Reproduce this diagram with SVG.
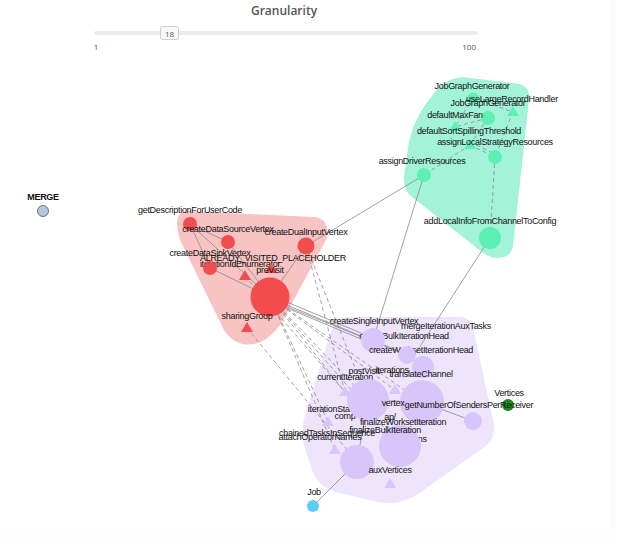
<svg xmlns="http://www.w3.org/2000/svg" width="617" height="545" viewBox="0 0 617 545">
<style>
text{font-family:"Liberation Sans",Arial,sans-serif;}
.lb{font-size:9px;fill:#111;text-anchor:middle;letter-spacing:-0.3px;}
.ui{font-family:"Open Sans","Liberation Sans",sans-serif;fill:#555;}
.g{fill:#5ef0b2;}
.r{fill:#f24c4e;}
.p{fill:#d8c6fa;}
.e{stroke:#8a8a8a;stroke-width:0.8;fill:none;}
.d{stroke:#8a8a8a;stroke-width:0.8;fill:none;stroke-dasharray:4 3;}
</style>
<rect x="0" y="0" width="617" height="545" fill="#ffffff"/>
<rect x="0" y="528" width="617" height="17" fill="#fcfcfc"/>
<rect x="610" y="0" width="7" height="545" fill="#fcfcfc"/>

<g id="slider">
<text class="ui" x="284" y="15" font-size="12" font-weight="600" text-anchor="middle">Granularity</text>
<line x1="96" y1="33" x2="476" y2="33" stroke="#ececec" stroke-width="4" stroke-linecap="round"/>
<rect x="160.5" y="26.5" width="18" height="13" rx="2" fill="#f8f8f8" stroke="#cfcfcf"/>
<text class="ui" x="169.5" y="36.5" font-size="8" text-anchor="middle">18</text>
<text class="ui" x="96" y="50" font-size="8" text-anchor="middle">1</text>
<text class="ui" x="476" y="50" font-size="8" text-anchor="end">100</text>
</g>

<g id="hulls">
<path d="M462,77 L520,84 Q531,88 529,100 L513,246 Q510,259 496,258 Q488,257 482,252 L412,197 Q403,190 404,176 L408,148 Q412,120 432,96 Q442,80 462,77 Z" fill="#a2f3d8"/>
<path d="M186,211 L315,217 Q330,220 327,238 L282,322 Q265,348 242,344 Q230,340 224,330 L180,240 Q172,212 186,211 Z" fill="#f8c4c3"/>
<path d="M348,317 L462,317 Q470,318 473,328 L494,424 Q496,436 486,446 L418,494 Q400,506 378,502 L335,492 Q318,486 312,470 L304,445 Q300,430 306,412 L330,334 Q336,318 348,317 Z" fill="#eee5fd"/>
</g>

<g id="connectors">
<line class="e" x1="306" y1="246" x2="424" y2="175"/>
<line class="e" x1="424" y1="175" x2="373" y2="340"/>
<line class="e" x1="490" y1="238" x2="410" y2="362"/>
<line class="d" x1="495" y1="157" x2="490" y2="238"/>
<line class="d" x1="473" y1="98" x2="513" y2="112"/>
<line class="d" x1="473" y1="98" x2="455" y2="127"/>
<line class="d" x1="488" y1="118" x2="455" y2="127"/>
<line class="d" x1="470" y1="145" x2="495" y2="157"/>
<line class="d" x1="470" y1="142" x2="495" y2="154"/>
<line class="d" x1="513" y1="112" x2="495" y2="157"/>
<line class="d" x1="470" y1="145" x2="424" y2="175"/>
<line class="d" x1="488" y1="118" x2="470" y2="145"/>
<line class="e" x1="190" y1="224" x2="270" y2="297"/>
<line class="e" x1="190" y1="224" x2="228" y2="242"/>
<line class="e" x1="190" y1="224" x2="210" y2="268"/>
<line class="e" x1="228" y1="242" x2="270" y2="297"/>
<line class="e" x1="210" y1="268" x2="270" y2="297"/>
<line class="e" x1="306" y1="246" x2="270" y2="297"/>
<line class="e" x1="270" y1="295" x2="373" y2="338"/>
<line class="e" x1="270" y1="298" x2="373" y2="341"/>
<line class="e" x1="270" y1="301" x2="373" y2="344"/>
<line class="e" x1="270" y1="300" x2="407" y2="355"/>
<line class="d" x1="270" y1="297" x2="368" y2="400"/>
<line class="d" x1="270" y1="297" x2="345" y2="392"/>
<line class="d" x1="270" y1="297" x2="328" y2="422"/>
<line class="d" x1="270" y1="297" x2="335" y2="450"/>
<line class="d" x1="270" y1="297" x2="395" y2="390"/>
<line class="d" x1="270" y1="297" x2="400" y2="446"/>
<line class="d" x1="270" y1="297" x2="422" y2="402"/>
<line class="d" x1="245" y1="276" x2="345" y2="392"/>
<line class="d" x1="247" y1="328" x2="357" y2="462"/>
<line class="d" x1="306" y1="246" x2="345" y2="392"/>
<line class="d" x1="306" y1="246" x2="368" y2="400"/>
<line class="e" x1="373" y1="340" x2="407" y2="355"/>
<line class="e" x1="407" y1="355" x2="423" y2="367"/>
<line class="e" x1="368" y1="400" x2="422" y2="402"/>
<line class="e" x1="422" y1="402" x2="473" y2="421"/>
<line class="e" x1="368" y1="400" x2="357" y2="462"/>
<line class="e" x1="313" y1="506" x2="357" y2="462"/>
</g>

<g id="n-JobGraphGenerator"><circle class="g" cx="473" cy="98" r="5.5"/><text class="lb" x="472" y="89">JobGraphGenerator</text></g>
<g id="n-useLargeRecordHandler"><path class="g" d="M513,106 L519,116 L507,116 Z"/><text class="lb" x="512" y="102">useLargeRecordHandler</text></g>
<g id="n-JobGraphGenerator2"><circle class="g" cx="488" cy="118" r="7"/><text class="lb" x="488" y="106">JobGraphGenerator</text></g>
<g id="n-defaultMaxFan"><path class="g" d="M455,121 L461,131 L449,131 Z"/><text class="lb" x="455" y="118">defaultMaxFan</text></g>
<g id="n-defaultSortSpillingThreshold"><path class="g" d="M470,139 L476,149 L464,149 Z"/><text class="lb" x="469" y="134">defaultSortSpillingThreshold</text></g>
<g id="n-assignLocalStrategyResources"><circle class="g" cx="495" cy="157" r="7"/><text class="lb" x="495" y="145">assignLocalStrategyResources</text></g>
<g id="n-assignDriverResources"><circle class="g" cx="424" cy="175" r="7"/><text class="lb" x="422" y="164">assignDriverResources</text></g>
<g id="n-addLocalInfoFromChannelToConfig"><circle class="g" cx="490" cy="238" r="11"/><text class="lb" x="490" y="224">addLocalInfoFromChannelToConfig</text></g>

<g id="n-iterationIdEnumerator"><path class="r" d="M245,270 L251,280 L239,280 Z"/><text class="lb" x="240" y="267">iterationIdEnumerator</text></g>
<g id="n-getDescriptionForUserCode"><circle class="r" cx="190" cy="224" r="7"/><text class="lb" x="190" y="213">getDescriptionForUserCode</text></g>
<g id="n-createDataSourceVertex"><circle class="r" cx="228" cy="242" r="7"/><text class="lb" x="228" y="232">createDataSourceVertex</text></g>
<g id="n-createDualInputVertex"><circle class="r" cx="306" cy="246" r="8.5"/><text class="lb" x="306" y="235">createDualInputVertex</text></g>
<g id="n-createDataSinkVertex"><circle class="r" cx="210" cy="268" r="7"/><text class="lb" x="210" y="256">createDataSinkVertex</text></g>
<g id="n-ALREADY_VISITED_PLACEHOLDER"><path class="r" d="M271,263 L277,273 L265,273 Z"/><text class="lb" x="273" y="261">ALREADY_VISITED_PLACEHOLDER</text></g>
<g id="n-preVisit"><circle class="r" cx="270" cy="297" r="19.5"/><text class="lb" x="270" y="273">preVisit</text></g>
<g id="n-sharingGroup"><path class="r" d="M247,322 L253,332 L241,332 Z"/><text class="lb" x="247" y="319">sharingGroup</text></g>

<g id="n-createBulkIterationHead"><text class="lb" x="404" y="339">createBulkIterationHead</text></g>
<g id="n-createSingleInputVertex"><circle class="p" cx="373" cy="340" r="12"/><text class="lb" x="374" y="324">createSingleInputVertex</text></g>
<g id="n-mergeIterationAuxTasks"><text class="lb" x="446" y="329">mergeIterationAuxTasks</text></g>
<g id="n-createWorksetIterationHead"><text class="lb" x="421" y="353">createWorksetIterationHead</text></g>
<g id="n-bulkHeadNode"><circle class="p" cx="407" cy="355" r="9"/></g>
<g id="n-translateChannel"><circle class="p" cx="423" cy="367" r="11"/><text class="lb" x="421" y="377">translateChannel</text></g>
<g id="n-iterations"><path class="p" d="M395,384 L401,394 L389,394 Z"/><text class="lb" x="392" y="373">iterations</text></g>
<g id="n-postVisit"><text class="lb" x="364" y="374">postVisit</text></g>
<g id="n-currentIteration"><path class="p" d="M345,386 L351,396 L339,396 Z"/><text class="lb" x="345" y="380">currentIteration</text></g>
<g id="n-iterationStack"><path class="p" d="M328,416 L334,426 L322,426 Z"/><text class="lb" x="333" y="412">iterationStack</text></g>
<g id="n-comp"><text class="lb" x="345" y="419">comp</text></g>
<g id="n-big1"><circle class="p" cx="368" cy="400" r="21"/></g>
<g id="n-big2"><circle class="p" cx="422" cy="402" r="22"/></g>
<g id="n-vertex"><text class="lb" x="393" y="406">vertex</text></g>
<g id="n-ap"><text class="lb" x="390" y="420">ap/</text></g>
<g id="n-Vertices"><circle cx="508" cy="405" r="6" fill="#1f8b1f"/><text class="lb" x="509" y="396">Vertices</text></g>
<g id="n-getNumberOfSendersPerReceiver"><circle class="p" cx="473" cy="421" r="9"/><text class="lb" x="469" y="408">getNumberOfSendersPerReceiver</text></g>
<g id="n-iterationsB"><text class="lb" x="410" y="442">iterations</text></g>
<g id="n-chainedTasksInSequence"><path class="p" d="M335,444 L341,454 L329,454 Z"/><text class="lb" x="327" y="436">chainedTasksInSequence</text></g>
<g id="n-attachOperatorNames"><text class="lb" x="320" y="440">attachOperatorNames</text></g>
<g id="n-big3"><circle class="p" cx="400" cy="446" r="21"/></g>
<g id="n-finalizeBulkIteration"><circle class="p" cx="357" cy="462" r="17"/><text class="lb" x="385" y="433">finalizeBulkIteration</text></g>
<g id="n-finalizeWorksetIteration"><text class="lb" x="403" y="425">finalizeWorksetIteration</text></g>
<g id="n-auxVertices"><path class="p" d="M390,478 L396,488 L384,488 Z"/><text class="lb" x="390" y="473">auxVertices</text></g>
<g id="n-Job"><circle cx="313" cy="506" r="6" fill="#5bcdf9"/><text class="lb" x="314" y="495">Job</text></g>
<g id="n-MERGE"><circle cx="43" cy="211" r="5.5" fill="#b3c6e3" stroke="#555" stroke-width="0.8"/><text class="lb" x="43" y="200" font-weight="bold">MERGE</text></g>
</svg>
